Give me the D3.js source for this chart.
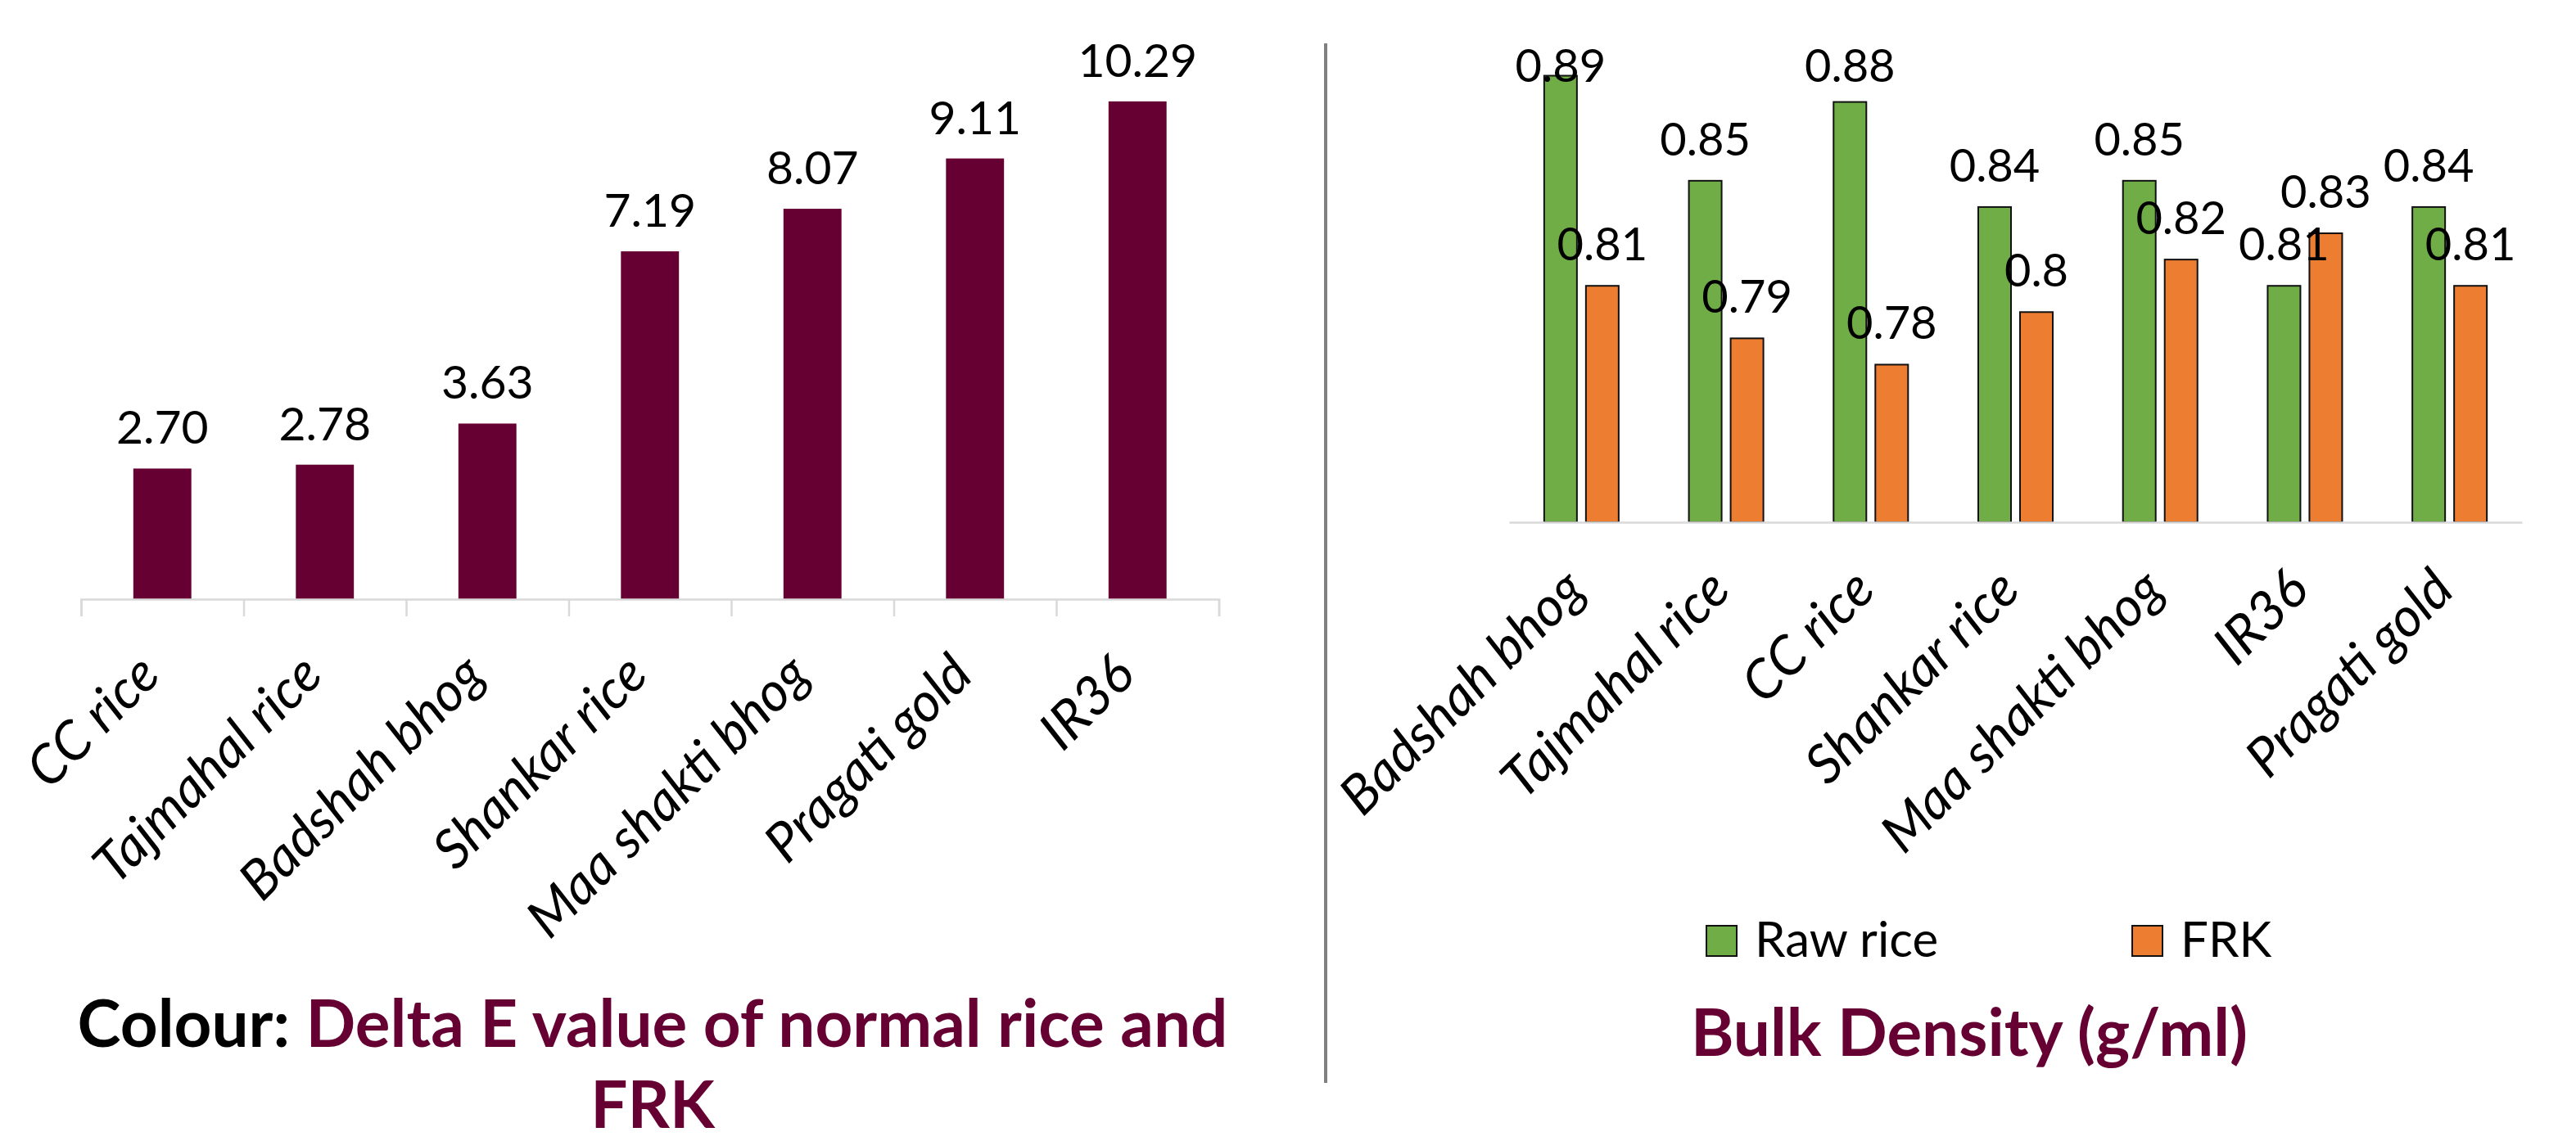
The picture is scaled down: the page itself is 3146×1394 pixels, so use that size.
<!DOCTYPE html>
<html>
<head>
<meta charset="utf-8">
<script src="https://cdn.jsdelivr.net/npm/d3@7"></script>
<style>
  body { margin: 0; background: #fff; }
  text { font-family: Lato, "Open Sans", sans-serif; }
</style>
</head>
<body>
<div id="container"></div>
<script>
/* DATA */
const colourCategories = ["CC rice", "Tajmahal rice", "Badshah bhog", "Shankar rice", "Maa shakti bhog", "Pragati gold", "IR36"]
const deltaE = [2.70, 2.78, 3.63, 7.19, 8.07, 9.11, 10.29]

const densityCategories = ["Badshah bhog", "Tajmahal rice", "CC rice", "Shankar rice", "Maa shakti bhog", "IR36", "Pragati gold"]
const rawRice = [0.89, 0.85, 0.88, 0.84, 0.85, 0.81, 0.84]
const frk = [0.81, 0.79, 0.78, 0.80, 0.82, 0.83, 0.81]
const seriesNames = ["Raw rice", "FRK"]

/* CONSTANTS AND GLOBALS */
const width = 3146,
  height = 1394,
  maroon = "#660033",
  axisGrey = "#d9d9d9"

const svg = d3.select("#container")
  .append("svg")
  .attr("width", width)
  .attr("height", height)
  .style("display", "block")

svg.append("rect")
  .attr("width", width)
  .attr("height", height)
  .attr("fill", "#fff")

/* LEFT CHART : colour */
const left = { x0: 99, x1: 1488.5, base: 732, top: 22.8 }

const xScale = d3.scaleBand()
  .domain(colourCategories)
  .range([left.x0, left.x1])

const yScale = d3.scaleLinear()
  .domain([0, 12])
  .range([left.base, left.top])

const colourData = colourCategories.map((c, i) => ({ cat: c, value: deltaE[i] }))
const barW = xScale.bandwidth() * 0.357

svg.selectAll("rect.colourBar")
  .data(colourData)
  .join("rect")
  .attr("class", "colourBar")
  .attr("x", d => xScale(d.cat) + (xScale.bandwidth() - barW) / 2)
  .attr("y", d => yScale(d.value))
  .attr("width", barW)
  .attr("height", d => yScale(0) - yScale(d.value))
  .attr("fill", maroon)

// category axis with ticks between the bands
const edgeScale = d3.scaleLinear().domain([0, colourCategories.length]).range([left.x0, left.x1])
const leftAxis = svg.append("g")
  .attr("transform", `translate(0, ${left.base})`)
  .call(d3.axisBottom(edgeScale).ticks(colourCategories.length).tickSize(21).tickSizeOuter(21).tickFormat(""))
leftAxis.selectAll("path, line").attr("stroke", axisGrey).attr("stroke-width", 2.5)

svg.selectAll("text.colourValue")
  .data(colourData)
  .join("text")
  .attr("class", "colourValue")
  .attr("x", d => xScale(d.cat) + xScale.bandwidth() / 2)
  .attr("y", d => yScale(d.value) - 30)
  .attr("text-anchor", "middle")
  .attr("font-size", 57)
  .attr("fill", "#000")
  .text(d => d.value.toFixed(2))

svg.selectAll("text.colourCat")
  .data(colourCategories)
  .join("text")
  .attr("class", "colourCat")
  .attr("transform", d => `translate(${xScale(d) + xScale.bandwidth() / 2}, ${left.base + 96}) rotate(-45)`)
  .attr("text-anchor", "end")
  .attr("font-size", 66)
  .attr("font-style", "italic")
  .attr("fill", "#000")
  .text(d => d)

const leftTitle = svg.append("text")
  .attr("x", 797)
  .attr("y", 1279)
  .attr("text-anchor", "middle")
  .attr("font-size", 80)
  .attr("font-weight", "bold")
leftTitle.append("tspan").attr("fill", "#000").text("Colour: ")
leftTitle.append("tspan").attr("fill", maroon).text("Delta E value of normal rice and")

svg.append("text")
  .attr("x", 797)
  .attr("y", 1378)
  .attr("text-anchor", "middle")
  .attr("font-size", 80)
  .attr("font-weight", "bold")
  .attr("fill", maroon)
  .text("FRK")

// divider
svg.append("line")
  .attr("x1", 1619).attr("x2", 1619)
  .attr("y1", 53).attr("y2", 1323)
  .attr("stroke", "#808080")
  .attr("stroke-width", 4)

/* RIGHT CHART : bulk density */
const right = { x0: 1843, x1: 3080, base: 638, top: 60.4 }

const x0 = d3.scaleBand()
  .domain(densityCategories)
  .range([right.x0, right.x1])

const x1 = d3.scaleBand()
  .domain(seriesNames)
  .range([0, 91])
  .paddingInner(11 / 51)

const y2 = d3.scaleLinear()
  .domain([0.72, 0.90])
  .range([right.base, right.top])

const colour = d3.scaleOrdinal()
  .domain(seriesNames)
  .range(["#70ad47", "#ed7d31"])

const densityData = densityCategories.map((c, i) => [
  { cat: c, series: "Raw rice", value: rawRice[i] },
  { cat: c, series: "FRK", value: frk[i] }
]).flat()

const groupOffset = (x0.bandwidth() - 91) / 2

svg.selectAll("rect.densityBar")
  .data(densityData)
  .join("rect")
  .attr("class", "densityBar")
  .attr("x", d => x0(d.cat) + groupOffset + x1(d.series))
  .attr("y", d => y2(d.value))
  .attr("width", x1.bandwidth())
  .attr("height", d => y2.range()[0] - y2(d.value))
  .attr("fill", d => colour(d.series))
  .attr("stroke", "#111")
  .attr("stroke-width", 2)

const rightAxis = svg.append("g")
  .attr("transform", `translate(0, ${right.base})`)
  .call(d3.axisBottom(x0).tickSize(0).tickSizeOuter(0).tickFormat(""))
rightAxis.selectAll("path").attr("stroke", axisGrey).attr("stroke-width", 2.5)

svg.selectAll("text.densityValue")
  .data(densityData)
  .join("text")
  .attr("class", "densityValue")
  .attr("x", d => x0(d.cat) + groupOffset + x1(d.series) + x1.bandwidth() / 2)
  .attr("y", d => Math.max(y2(d.value) - 31, 100))
  .attr("text-anchor", "middle")
  .attr("font-size", 56)
  .attr("fill", "#000")
  .text(d => String(d.value))

svg.selectAll("text.densityCat")
  .data(densityCategories)
  .join("text")
  .attr("class", "densityCat")
  .attr("transform", d => `translate(${x0(d) + x0.bandwidth() / 2 + 8}, ${right.base + 86}) rotate(-45)`)
  .attr("text-anchor", "end")
  .attr("font-size", 66)
  .attr("font-style", "italic")
  .attr("fill", "#000")
  .text(d => d)

// legend
const legendX = [2084, 2604]
const legend = svg.selectAll("g.legend")
  .data(seriesNames)
  .join("g")
  .attr("class", "legend")
  .attr("transform", (d, i) => `translate(${legendX[i]}, 1131)`)
legend.append("rect")
  .attr("width", 37)
  .attr("height", 37)
  .attr("fill", d => colour(d))
  .attr("stroke", "#111")
  .attr("stroke-width", 2)
legend.append("text")
  .attr("x", 59)
  .attr("y", 38)
  .attr("font-size", 60)
  .attr("fill", "#000")
  .text(d => d)

svg.append("text")
  .attr("x", 2405)
  .attr("y", 1290)
  .attr("text-anchor", "middle")
  .attr("font-size", 80)
  .attr("font-weight", "bold")
  .attr("fill", maroon)
  .text("Bulk Density (g/ml)")
</script>
</body>
</html>
